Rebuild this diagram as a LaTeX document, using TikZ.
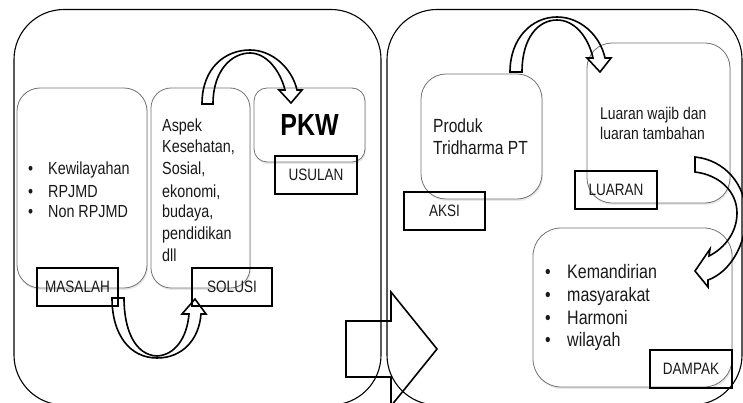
\documentclass[tikz,border=0pt]{standalone}
\usepackage{fontspec}
\setmainfont[FakeStretch=0.82]{Liberation Sans}
\usetikzlibrary{shadows}
\newcommand{\fsz}[1]{\fontsize{#1}{#1}\selectfont}
\begin{document}
\begin{tikzpicture}[x=1pt,y=-1pt,
  panel/.style={draw=black, line width=1.1pt, rounded corners=50pt},
  gbox/.style={draw=black!55, line width=0.8pt, fill=white, inner sep=0pt,
     drop shadow={shadow xshift=1pt, shadow yshift=-2pt, opacity=0.18}},
  lbl/.style={draw=black, line width=1.6pt, inner sep=0pt, minimum width=81pt,
     minimum height=38pt, font=\fsz{16.5}, text=black!90},
  txt/.style={anchor=base west, inner sep=0pt, text=black!90},
  arr/.style={draw=black, line width=1.6pt, line join=miter}]
\useasboundingbox (0,0) rectangle (743,403);
\clip (0,0) rectangle (743,403);

% panels
\draw[panel] (14,9.5) rectangle (381,405);
\draw[panel] (387,9.5) rectangle (742,405);

% gray boxes
\node (masalahbox) [gbox, rounded corners=23pt, minimum width=130pt, minimum height=200pt] at (82,188) {};
\node (solusibox) [gbox, rounded corners=20pt, minimum width=99pt, minimum height=200pt] at (200.5,188) {};
\node (pkwbox) [gbox, rounded corners=13pt, minimum width=111pt, minimum height=74pt, font=\bfseries\fsz{30.5}, text=black] at (309.5,125) {PKW};
\node (produkbox) [gbox, rounded corners=25pt, minimum width=121pt, minimum height=125pt] at (481.5,136.5) {};
\node (luaranbox) [gbox, rounded corners=25pt, minimum width=143pt, minimum height=160pt] at (658.5,123) {};
\node (dampakbox) [gbox, rounded corners=28pt, minimum width=199pt, minimum height=159pt] at (632.5,307.5) {};

% labels
\node (masalah) [lbl] at (77.5,287) {MASALAH};
\node (solusi) [lbl, minimum width=80pt] at (232,287) {SOLUSI};
\node (usulan) [lbl, minimum width=82pt] at (316,175) {USULAN};
\node (aksi) [lbl] at (444.5,211) {AKSI};
\node (luaran) [lbl, minimum width=82pt] at (616,190) {LUARAN};
\node (dampak) [lbl, minimum width=82pt] at (691,369) {DAMPAK};

% texts
\foreach \t/\yy [count=\i] in {Kewilayahan/175, RPJMD/197, Non RPJMD/218}{
  \node (mb\i) [txt, font=\fsz{17.5}] at (28,\yy) {\textbullet};
  \node (mt\i) [txt, font=\fsz{17.5}] at (48,\yy) {\t};
}
\foreach \t/\yy [count=\i] in {Aspek/132, {Kesehatan,}/153, {Sosial,}/175, {ekonomi,}/197, {budaya,}/218, pendidikan/240, dll/261}{
  \node (st\i) [txt, font=\fsz{17.5}] at (162,\yy) {\t};
}
\node (pt1) [txt, font=\fsz{19}] at (433,133) {Produk};
\node (pt2) [txt, font=\fsz{19}] at (433,155) {Tridharma PT};
\node (lt1) [txt, font=\fsz{17}] at (600,120) {Luaran wajib dan};
\node (lt2) [txt, font=\fsz{17}] at (600,140) {luaran tambahan};
\foreach \t/\yy [count=\i] in {Kemandirian/278, masyarakat/301, Harmoni/324, wilayah/346}{
  \node (db\i) [txt, font=\fsz{19.5}] at (545,\yy) {\textbullet};
  \node (dt\i) [txt, font=\fsz{19.5}] at (567,\yy) {\t};
}

% curved arrow MASALAH -> SOLUSI
\draw[arr] (112,298) .. controls (112,335) and (130,358) .. (157,358)
  .. controls (182,358) and (199,340) .. (201,314) -- (206,314) -- (195,299)
  -- (182,314) -- (189,314) .. controls (187,338) and (175,355) .. (157,356)
  .. controls (135,355) and (124,330) .. (124,298) -- cycle;

% curved arrow SOLUSI -> PKW
\draw[arr] (202,104) .. controls (202,68) and (225,50) .. (250,50)
  .. controls (272,50) and (292,68) .. (297,90) -- (302,90) -- (291,103)
  -- (279,90) -- (285,90) .. controls (280,70) and (266,53) .. (250,53)
  .. controls (232,53) and (213,70) .. (213,104) -- cycle;

% curved arrow AKSI -> LUARAN
\draw[arr] (510,72) .. controls (510,38) and (532,17) .. (557,17)
  .. controls (580,17) and (600,35) .. (605,58) -- (611,58) -- (600,72)
  -- (587,58) -- (593,58) .. controls (588,36) and (574,20) .. (557,20)
  .. controls (538,20) and (522,38) .. (522,72) -- cycle;

% curved arrow LUARAN -> DAMPAK
\draw[arr] (695,157) .. controls (725,160) and (746,185) .. (746,215)
  .. controls (746,245) and (730,272) .. (708,280) -- (708,287) -- (695,271)
  -- (710,249) -- (709,256) .. controls (725,248) and (737,232) .. (737,213)
  .. controls (737,192) and (720,175) .. (695,172) -- cycle;

% big block arrow
\draw[arr] (346,321) -- (391,321) -- (391,292) -- (437,349) -- (391,406)
  -- (391,377) -- (346,377) -- cycle;
\end{tikzpicture}
\end{document}
